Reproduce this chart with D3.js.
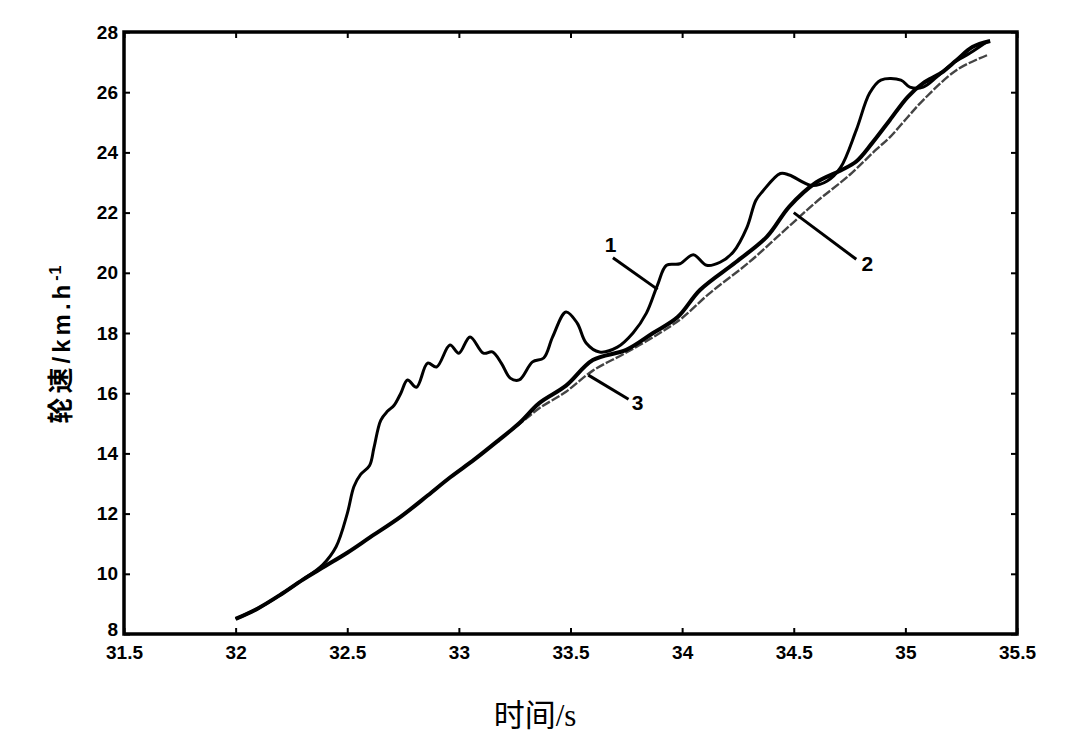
<!DOCTYPE html>
<html><head><meta charset="utf-8">
<script src="https://cdn.jsdelivr.net/npm/d3@7/dist/d3.min.js"></script>
<style>body{margin:0;background:#fff}svg{display:block}</style>
</head><body><svg id="c" width="1075" height="747"></svg>
<script>
// ---- data ----
const xTicks = [31.5, 32, 32.5, 33, 33.5, 34, 34.5, 35, 35.5];
const yTicks = [8, 10, 12, 14, 16, 18, 20, 22, 24, 26, 28];
const xTickLabels = ["31.5", "32", "32.5", "33", "33.5", "34", "34.5", "35", "35.5"];

const t1 = [32.0,32.1,32.2,32.3,32.39,32.45,32.5,32.53,32.56,32.6,32.62,32.65,32.68,32.71,32.74,32.77,32.81,32.86,32.9,32.96,33.0,33.05,33.11,33.15,33.19,33.23,33.27,33.33,33.38,33.42,33.48,33.53,33.57,33.63,33.71,33.78,33.84,33.89,33.93,33.99,34.05,34.11,34.17,34.23,34.29,34.33,34.36,34.44,34.48,34.58,34.65,34.71,34.78,34.84,34.89,34.98,35.02,35.08,35.14,35.21,35.29,35.37];
const v1 = [8.5,8.85,9.3,9.8,10.3,10.9,12.0,12.9,13.3,13.6,14.2,15.1,15.4,15.6,16.0,16.44,16.2,17.0,16.87,17.6,17.33,17.87,17.33,17.37,17.0,16.5,16.44,17.04,17.17,17.87,18.7,18.33,17.67,17.37,17.53,18.0,18.66,19.6,20.25,20.3,20.6,20.25,20.35,20.7,21.5,22.4,22.7,23.3,23.25,22.9,23.05,23.5,24.74,25.97,26.4,26.4,26.17,26.17,26.5,26.95,27.3,27.7];

const t2 = [32.0,32.1,32.2,32.3,32.4,32.5,32.6,32.74,32.86,32.96,33.07,33.18,33.27,33.36,33.48,33.6,33.75,33.87,33.98,34.08,34.24,34.38,34.48,34.6,34.71,34.78,34.85,34.93,35.01,35.08,35.16,35.23,35.3,35.38];
const v2 = [8.5,8.85,9.3,9.8,10.25,10.7,11.2,11.9,12.6,13.2,13.8,14.45,15.0,15.67,16.25,17.1,17.44,18.0,18.53,19.43,20.35,21.2,22.2,23.0,23.4,23.7,24.3,25.07,25.84,26.3,26.64,27.07,27.5,27.7];

const t3 = [32.0,32.1,32.2,32.3,32.4,32.5,32.6,32.74,32.86,32.96,33.07,33.18,33.27,33.36,33.48,33.6,33.75,33.9,34.0,34.12,34.3,34.45,34.6,34.75,34.87,34.93,35.01,35.08,35.23,35.37];
const v3 = [8.5,8.85,9.3,9.8,10.25,10.7,11.2,11.9,12.6,13.2,13.8,14.45,14.97,15.5,16.05,16.75,17.35,18.0,18.5,19.3,20.35,21.35,22.35,23.25,24.1,24.5,25.17,25.74,26.74,27.24];

// annotation labels (data units): text position, leader line from / to
const annLabels = ["1", "2", "3"];
const annText = [[33.68, 20.7], [34.83, 20.05], [33.80, 15.45]];
const annFrom = [[33.69, 20.5], [34.78, 20.45], [33.76, 15.8]];
const annTo = [[33.89, 19.45], [34.50, 22.0], [33.58, 16.6]];

// ---- drawing ----
const svg = d3.select("#c");
const L = 124, R = 1017, T = 32, B = 634;
const x = d3.scaleLinear().domain([31.5, 35.5]).range([L, R]);
const y = d3.scaleLinear().domain([8, 28]).range([B, T]);

const tickFont = "'Liberation Sans', Arial, sans-serif";

const gx = svg.append("g").attr("transform", `translate(0,${B})`)
  .call(d3.axisBottom(x).tickValues(xTicks).tickFormat((d,i)=>xTickLabels[i]).tickSizeInner(-6).tickSizeOuter(0).tickPadding(12));
const gxt = svg.append("g").attr("transform", `translate(0,${T})`)
  .call(d3.axisTop(x).tickValues(xTicks).tickFormat("").tickSizeInner(-6).tickSizeOuter(0));
const gy = svg.append("g").attr("transform", `translate(${L},0)`)
  .call(d3.axisLeft(y).tickValues(yTicks).tickFormat(d3.format("d")).tickSizeInner(-6).tickSizeOuter(0).tickPadding(6));
const gyr = svg.append("g").attr("transform", `translate(${R},0)`)
  .call(d3.axisRight(y).tickValues(yTicks).tickFormat("").tickSizeInner(-6).tickSizeOuter(0));
[gx,gxt,gy,gyr].forEach(g=>{
  g.select(".domain").remove();
  g.selectAll(".tick line").attr("stroke","#000").attr("stroke-width",2);
  g.selectAll("text").attr("font-family",tickFont).attr("font-weight","bold").attr("font-size",19).attr("fill","#000");
});
gy.selectAll(".tick").filter(d=>d===8).select("text").attr("dy","0.1em");

svg.append("rect").attr("x",L).attr("y",T).attr("width",R-L).attr("height",B-T)
  .attr("fill","none").attr("stroke","#000").attr("stroke-width",3.5);

const line = d3.line().x(d=>x(d[0])).y(d=>y(d[1])).curve(d3.curveCatmullRom.alpha(0.5));
const zip = (a,b)=>a.map((t,i)=>[t,b[i]]);

svg.append("path").datum(zip(t3,v3)).attr("d",line).attr("fill","none")
  .attr("stroke","#444").attr("stroke-width",2.4).attr("stroke-dasharray","9,2");
svg.append("path").datum(zip(t2,v2)).attr("d",line).attr("fill","none")
  .attr("stroke","#000").attr("stroke-width",4);
svg.append("path").datum(zip(t1,v1)).attr("d",line).attr("fill","none")
  .attr("stroke","#000").attr("stroke-width",3);

annLabels.forEach((lab,i)=>{
  svg.append("line").attr("x1",x(annFrom[i][0])).attr("y1",y(annFrom[i][1]))
    .attr("x2",x(annTo[i][0])).attr("y2",y(annTo[i][1])).attr("stroke","#000").attr("stroke-width",3);
  svg.append("text").attr("x",x(annText[i][0])).attr("y",y(annText[i][1])).attr("text-anchor","middle")
    .attr("font-family",tickFont).attr("font-weight","bold").attr("font-size",21).text(lab);
});

svg.append("text").attr("x",535).attr("y",726).attr("text-anchor","middle")
  .attr("font-family","'Liberation Serif','Noto Sans CJK SC',serif").attr("font-size",31).text("时间/s");

const yl = svg.append("text").attr("transform","translate(70,344) rotate(-90)").attr("text-anchor","middle")
  .attr("font-family","'Liberation Sans','Noto Sans CJK SC',sans-serif").attr("font-weight","bold").attr("font-size",26)
  .attr("letter-spacing",4);
yl.append("tspan").text("轮速");
yl.append("tspan").attr("font-size",24).text("/km.h");
yl.append("tspan").attr("dy",-9).attr("font-size",16).attr("letter-spacing",1).text("-1");
</script></body></html>
